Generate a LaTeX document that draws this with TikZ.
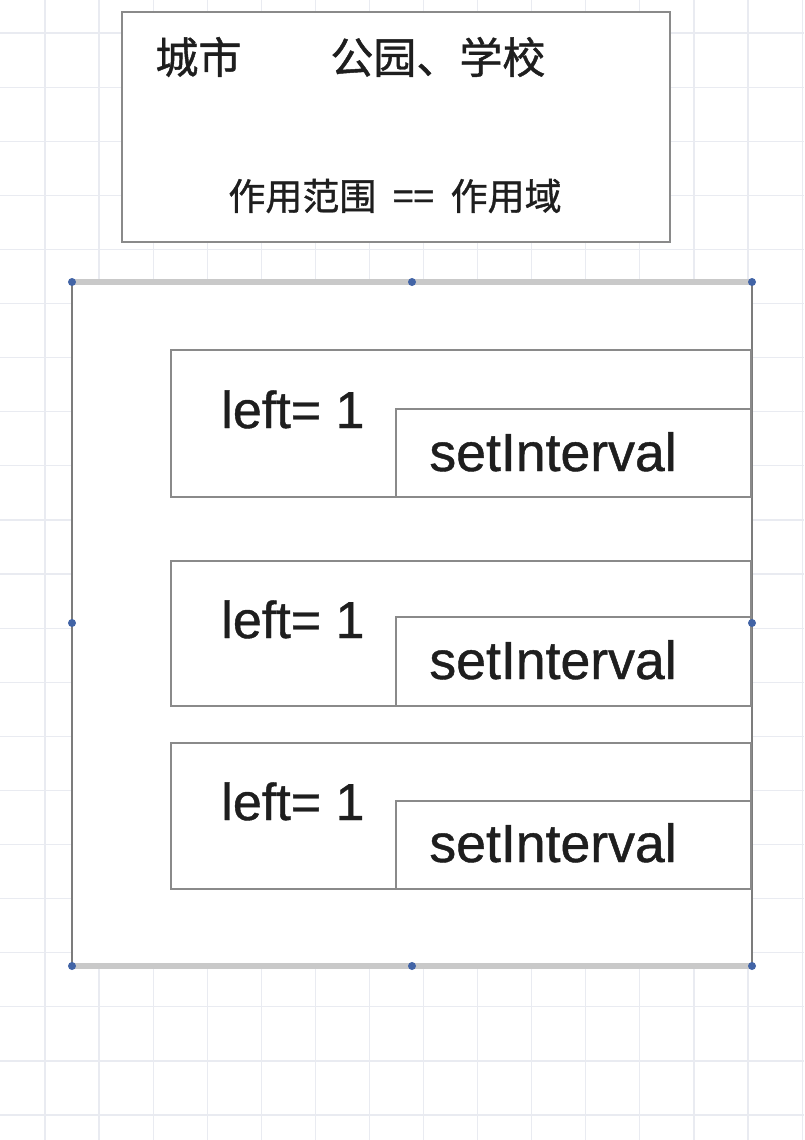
\documentclass[tikz,border=0pt]{standalone}
\usepackage{fontspec}
\setmainfont{Liberation Sans}
\newfontfamily\heavy[FakeBold=0.8]{Liberation Sans}
\newfontfamily\cjk[FakeBold=1]{Noto Sans CJK SC}
\definecolor{gridc}{HTML}{E9EBF1}
\definecolor{boxc}{HTML}{8A8A8A}
\definecolor{selc}{HTML}{C9C9C9}
\definecolor{sidec}{HTML}{7C7C7C}
\definecolor{handc}{HTML}{4264A6}
\definecolor{txtc}{HTML}{1E1E1E}
\tikzset{
  px/.style={x=0.5pt,y=-0.5pt},
  plainbox/.style={draw=boxc,line width=1.2pt,fill=white},
  cjktxt/.style={inner sep=0pt,text=txtc,font=\cjk\fontsize{21.5}{26}\selectfont},
  cjksmall/.style={inner sep=0pt,text=txtc,font=\cjk\fontsize{18.5}{22}\selectfont},
  codetxt/.style={inner sep=0pt,text=txtc,anchor=base west,font=\heavy\fontsize{26}{30}\selectfont},
  codetxtb/.style={codetxt,font=\heavy\fontsize{26.8}{30}\selectfont},
  handle/.style={circle,fill=handc,inner sep=0pt,minimum size=4pt},
}
\begin{document}
\begin{tikzpicture}[px]
\useasboundingbox (0,0) rectangle (804,1140);
\fill[white] (0,0) rectangle (804,1140);
% grid
\foreach \i in {0,...,14} {
  \draw[gridc,line width=0.6pt] ({45+54.08*\i},0) -- ({45+54.08*\i},1140);
}
\foreach \j in {0,...,20} {
  \draw[gridc,line width=0.6pt] (0,{33+54.1*\j}) -- (804,{33+54.1*\j});
}
% top box
\draw[plainbox] (122,12) rectangle (670,242);
\node[cjktxt,anchor=west] (city) at (155,57) {城市};
\node[cjktxt,anchor=west] (park) at (330,57) {公园、学校};
\node[cjksmall] (scope) at (395,196) {作用范围 ~==~ 作用域};
% big container
\fill[white] (72,282) rectangle (752,966);
\draw[sidec,line width=1.4pt] (72,282) -- (72,966);
\draw[sidec,line width=1.4pt] (752,282) -- (752,966);
\draw[selc,line width=3.2pt] (72,282) -- (752,282);
\draw[selc,line width=3.2pt] (72,966) -- (752,966);
% inner boxes
\draw[plainbox] (171,350) rectangle (751,497);
\draw[plainbox] (396,409) rectangle (751,497);
\node[codetxt] (l1) at (221,428) {left= 1};
\node[codetxtb] (s1) at (429,471) {setInterval};

\draw[plainbox] (171,561) rectangle (751,706);
\draw[plainbox] (396,617) rectangle (751,706);
\node[codetxt] (l2) at (221,638) {left= 1};
\node[codetxtb] (s2) at (429,679) {setInterval};

\draw[plainbox] (171,743) rectangle (751,889);
\draw[plainbox] (396,801) rectangle (751,889);
\node[codetxt] (l3) at (221,820) {left= 1};
\node[codetxtb] (s3) at (429,862) {setInterval};
% handles
\foreach \p/\n in {{(72,282)}/h1,{(412,282)}/h2,{(752,282)}/h3,{(72,623)}/h4,{(752,623)}/h5,{(72,966)}/h6,{(412,966)}/h7,{(752,966)}/h8}
  \node[handle] (\n) at \p {};
\end{tikzpicture}
\end{document}
